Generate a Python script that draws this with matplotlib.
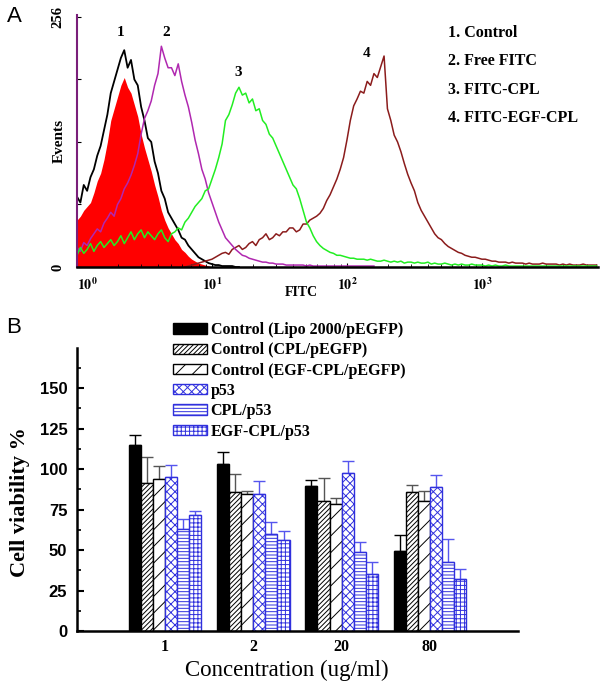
import numpy as np
import matplotlib
matplotlib.use("Agg")
import matplotlib.pyplot as plt

plt.rcParams['font.family'] = ['Liberation Serif', 'DejaVu Serif']
plt.rcParams['mathtext.fontset'] = 'stix'
plt.rcParams['hatch.linewidth'] = 0.7

# ---- panel A: flow cytometry histograms (counts per 0.025 decade of FITC) ----
step = 0.025
ctrl_start = 0.0
ctrl_counts = [72, 66, 84, 78, 92, 100, 114, 124, 140, 156,
               178, 190, 202, 214, 222, 204, 212, 192, 186, 164,
               150, 132, 128, 108, 96, 78, 70, 56, 50, 44,
               38, 30, 28, 22, 18, 14, 10, 8, 6, 4,
               3, 2, 2, 1, 1, 1, 1, 0, 0]
ctrl_fill_counts = [48, 52, 58, 62, 66, 76, 88, 96, 110, 128,
                    150, 162, 174, 186, 194, 184, 178, 166, 154, 136,
                    122, 110, 98, 84, 72, 58, 48, 40, 34, 28,
                    24, 18, 15, 11, 8, 6, 4, 3, 2, 1, 0]
free_start = 0.0
free_counts = [20, 16, 25, 22, 29, 34, 39, 36, 45, 50,
               56, 52, 64, 70, 80, 86, 94, 104, 116, 136,
               152, 160, 170, 186, 198, 226, 214, 204, 204, 196,
               208, 190, 176, 164, 148, 130, 116, 100, 90, 76,
               66, 56, 46, 38, 30, 26, 22, 18, 15, 12,
               11, 9, 8, 7, 6, 5, 5, 4, 4, 3,
               3, 3, 2, 2, 2, 2, 2, 2, 1, 2,
               1, 1, 1, 1, 1, 1, 1, 1, 1, 1,
               1, 1, 1, 1, 1, 1, 1, 1, 1]
cpl_start = 0.0
cpl_counts = [12, 20, 14, 18, 24, 16, 22, 26, 20, 24,
              28, 22, 26, 32, 24, 30, 36, 28, 34, 38,
              30, 36, 32, 28, 34, 38, 30, 26, 34, 36,
              40, 38, 46, 50, 56, 62, 66, 70, 78, 80,
              90, 100, 112, 126, 150, 156, 166, 178, 184, 176,
              178, 168, 172, 160, 162, 150, 146, 136, 132, 124,
              116, 108, 100, 92, 84, 80, 70, 58, 46, 40,
              32, 26, 22, 19, 17, 15, 14, 12, 12, 11,
              10, 9, 9, 8, 8, 8, 7, 8, 7, 6,
              6, 7, 6, 5, 6, 5, 6, 4, 5, 5,
              4, 5, 4, 4, 5, 3, 4, 3, 3, 4,
              3, 2, 3, 2, 3, 2, 2, 3, 2, 2,
              2, 1, 2, 1, 2, 1, 1, 2, 1, 1,
              1, 1, 1, 1, 1, 1, 1, 1, 1, 1,
              1, 1, 1, 1, 1, 1, 1, 1, 1, 1,
              1, 1, 1, 1, 1]
egf_start = 0.8
egf_counts = [0, 1, 2, 3, 4, 5, 6, 7, 8, 10,
              12, 14, 15, 13, 18, 20, 22, 18, 20, 24,
              26, 22, 28, 30, 34, 28, 30, 34, 32, 36,
              36, 40, 40, 36, 38, 44, 44, 48, 50, 52,
              55, 60, 68, 74, 82, 90, 100, 112, 130, 150,
              165, 172, 180, 178, 190, 186, 198, 194, 205, 216,
              162, 150, 135, 128, 118, 106, 95, 86, 78, 66,
              58, 52, 46, 40, 34, 30, 28, 24, 21, 19,
              17, 15, 14, 12, 11, 10, 10, 9, 8, 8,
              7, 6, 6, 5, 5, 5, 4, 5, 4, 4,
              4, 3, 4, 3, 3, 3, 4, 3, 3, 3,
              3, 2, 3, 2, 3, 2, 2, 2, 3, 2,
              2, 2, 2]

hist_labels = ['1. Control', '2. Free FITC', '3. FITC-CPL', '4. FITC-EGF-CPL']
peak_tags = ['1', '2', '3', '4']
tag_pos = [(0.324, 240), (0.664, 240), (1.195, 199), (2.146, 219)]

# ---- panel B: cell viability ----
concentrations = ['1', '2', '20', '80']
groups = ['Control (Lipo 2000/pEGFP)', 'Control (CPL/pEGFP)', 'Control (EGF-CPL/pEGFP)',
          'p53', 'CPL/p53', 'EGF-CPL/p53']
lipo_ctrl = [114.8, 102.9, 89.5, 49.4]
cpl_ctrl = [91.5, 85.6, 80.2, 85.6]
egf_ctrl = [94.0, 84.4, 78.2, 80.2]
p53 = [95.2, 84.6, 97.3, 88.7]
cpl_p53 = [62.8, 59.7, 48.6, 42.4]
egf_p53 = [71.4, 56.2, 35.2, 31.9]
lipo_ctrl_err = [6.2, 7.4, 3.7, 9.9]
cpl_ctrl_err = [16.1, 11.1, 14.0, 4.5]
egf_ctrl_err = [8.0, 2.2, 4.1, 6.4]
p53_err = [7.3, 8.0, 7.8, 7.6]
cpl_p53_err = [6.1, 7.6, 6.1, 14.2]
egf_p53_err = [2.9, 5.7, 7.2, 6.2]


def xs(start, counts):
    return 10 ** (start + step * np.arange(len(counts)))


fig = plt.figure(figsize=(6.03, 6.88), dpi=100)

# ---------------- A ----------------
ax = fig.add_axes([0.1277, 0.6119, 0.8640, 0.3663])
ax.fill_between(xs(ctrl_start, ctrl_fill_counts), ctrl_fill_counts, color='#ff0000', lw=0)
ax.plot(xs(ctrl_start, ctrl_counts), ctrl_counts, color='black', lw=1.3)
ax.plot(xs(egf_start, egf_counts), egf_counts, color='#8b1c1c', lw=1.1)
ax.plot(xs(free_start, free_counts), free_counts, color='#b028b0', lw=1.1)
ax.plot(xs(cpl_start, cpl_counts), cpl_counts, color='#22ee22', lw=1.1)

ax.set_xscale('log')
ax.set_xlim(1, 10 ** 3.86)
ax.set_ylim(0, 258)
for s in ['top', 'right']:
    ax.spines[s].set_visible(False)
ax.spines['left'].set_color('#7a1f7a')
ax.spines['left'].set_linewidth(1.5)
ax.spines['bottom'].set_linewidth(1.8)

ax.set_xticks([1, 10, 100, 1000])
ax.set_xticklabels([r'$\mathbf{10^{0}}$', r'$\mathbf{10^{1}}$', r'$\mathbf{10^{2}}$',
                    r'$\mathbf{10^{3}}$'], fontsize=10)
ax.get_xticklabels()[0].set_ha('left')
ax.tick_params(axis='x', which='major', direction='in', length=3, pad=7)
ax.tick_params(axis='x', which='minor', direction='in', length=2)
ax.set_yticks([0, 64, 128, 192, 256])
ax.set_yticklabels(['0', '', '', '', '256'], rotation=90, va='center',
                   fontsize=10.5, fontweight='bold')
ax.tick_params(axis='y', direction='in', length=3, pad=9)

ax.set_xlabel('FITC', fontsize=10, fontweight='bold', va='center')
ax.xaxis.set_label_coords(0.43, -0.103)
ax.set_ylabel('Events', fontsize=11, fontweight='bold', va='center')
ax.yaxis.set_label_coords(-0.0345, 0.5)

for t, (lx, ly) in zip(peak_tags, tag_pos):
    ax.text(10 ** lx, ly, t, ha='center', va='center', fontsize=11, fontweight='bold')

for i, lab in enumerate(hist_labels):
    fig.text(448 / 603, 1 - (33 + 28.4 * i) / 688, lab, ha='left', va='center',
             fontsize=11.5, fontweight='bold')

fig.text(14 / 603, 1 - 17 / 688, 'A', ha='center', va='center', fontsize=16,
         family='Liberation Sans')
fig.text(14 / 603, 1 - 327 / 688, 'B', ha='center', va='center', fontsize=16,
         family='Liberation Sans')

# ---------------- B ----------------
bx = fig.add_axes([0.1277, 0.0828, 0.7313, 0.4121])
series = [lipo_ctrl, cpl_ctrl, egf_ctrl, p53, cpl_p53, egf_p53]
errors = [lipo_ctrl_err, cpl_ctrl_err, egf_ctrl_err, p53_err, cpl_p53_err, egf_p53_err]
blue = '#3030dd'
face = ['black', 'white', 'white', 'white', 'white', 'white']
edge = ['black', 'black', 'black', blue, blue, blue]
hatch = [None, '///////', '//', 'xxxx', '-----', '++++']
ecol = ['black', '#555555', '#555555', '#5555ee', '#5555ee', '#5555ee']

w = 0.1366
pos = np.arange(1, len(concentrations) + 1)
handles = []
for i, (vals, err) in enumerate(zip(series, errors)):
    x = pos + (i - 2.5) * w
    b = bx.bar(x, vals, w, color=face[i], edgecolor=edge[i], hatch=hatch[i],
               linewidth=1.0, label=groups[i], zorder=2)
    handles.append(b)
    bx.errorbar(x, vals, yerr=[np.zeros(len(vals)), err], fmt='none', ecolor=ecol[i],
                elinewidth=1.0, capsize=4, capthick=1.0, zorder=1)

bx.set_xlim(0, 5)
bx.set_ylim(0, 175)
for s in ['top', 'right']:
    bx.spines[s].set_visible(False)
for s in ['left', 'bottom']:
    bx.spines[s].set_linewidth(1.8)
bx.set_xticks(pos)
bx.set_xticklabels(concentrations, fontsize=11.5, fontweight='bold')
bx.set_yticks([0, 25, 50, 75, 100, 125, 150])
bx.set_yticks(np.arange(12.5, 175, 25), minor=True)
bx.set_yticklabels(['0', '25', '50', '75', '100', '125', '150'], fontsize=12,
                   fontweight='bold', family='Liberation Sans')
bx.tick_params(axis='both', which='major', direction='in', length=5, width=1.5)
bx.tick_params(axis='y', which='major', pad=7)
bx.tick_params(axis='x', which='major', pad=6)
bx.tick_params(axis='y', which='minor', direction='in', length=3, width=1.2)

bx.set_ylabel('Cell viability %', fontsize=16, fontweight='bold', va='center')
bx.yaxis.set_label_coords(-0.129, 0.456)
bx.set_xlabel('Concentration (ug/ml)', fontsize=16.5, va='center')
bx.xaxis.set_label_coords(0.4755, -0.1376)

fig.legend(handles=handles, labels=groups, loc='upper left',
           bbox_to_anchor=(173 / 603, 1 - 322 / 688), frameon=False,
           prop={'family': 'Liberation Serif', 'weight': 'bold', 'size': 11.5},
           handlelength=2.1, handleheight=0.62, handletextpad=0.25,
           labelspacing=0.27, borderpad=0, borderaxespad=0)

fig.savefig('out.png', dpi=100)
